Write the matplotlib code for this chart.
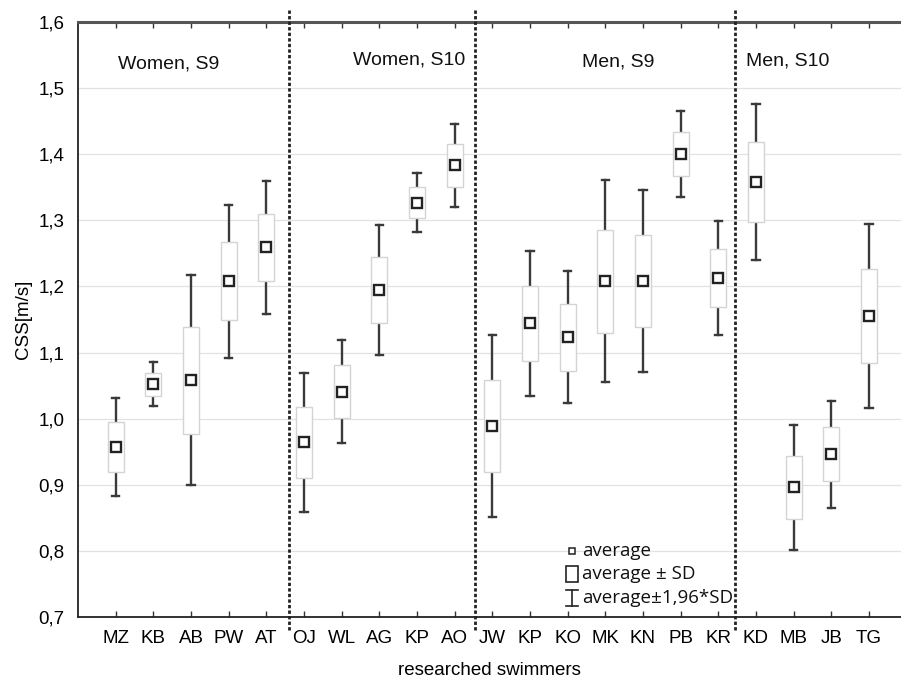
import numpy as np
import matplotlib.pyplot as plt
from matplotlib.patches import Rectangle

plt.rcParams['font.family'] = ['Liberation Sans', 'DejaVu Sans']

swimmers = ['MZ', 'KB', 'AB', 'PW', 'AT',
            'OJ', 'WL', 'AG', 'KP', 'AO',
            'JW', 'KP', 'KO', 'MK', 'KN', 'PB', 'KR',
            'KD', 'MB', 'JB', 'TG']
means = [0.957, 1.052, 1.058, 1.208, 1.259,
         0.964, 1.041, 1.195, 1.327, 1.383,
         0.989, 1.144, 1.123, 1.208, 1.208, 1.400, 1.213,
         1.358, 0.896, 0.946, 1.155]
sds = [0.038, 0.017, 0.081, 0.059, 0.051,
       0.054, 0.040, 0.050, 0.023, 0.032,
       0.070, 0.056, 0.051, 0.078, 0.070, 0.033, 0.044,
       0.060, 0.048, 0.041, 0.071]
groups = ['Women, S9', 'Women, S10', 'Men, S9', 'Men, S10']
group_label_x = [2.4, 8.8, 14.35, 18.85]
group_label_y = [1.537, 1.543, 1.54, 1.541]
separators = [5.6, 10.55, 17.45]
legend_labels = ['average', 'average \u00b1 SD', 'average\u00b11,96*SD']

means = np.array(means)
sds = np.array(sds)
x = np.arange(1, len(swimmers) + 1)

fig = plt.figure(figsize=(9.01, 6.82), dpi=100)
ax = fig.add_axes([0.0866, 0.0953, 0.9134, 0.8724])

ax.set_xlim(0, 21.85)
ax.set_ylim(0.7, 1.6)
ax.set_yticks(np.arange(0.7, 1.61, 0.1))
ax.set_yticklabels([f'{v:.1f}'.replace('.', ',') for v in np.arange(0.7, 1.61, 0.1)])
ax.yaxis.grid(True, color='#e2e2e2', lw=0.9)
ax.set_axisbelow(True)

wc = '#3a3a3a'
box_w = 0.42
cap_w = 0.2
for xi, m, s in zip(x, means, sds):
    lo, hi = m - 1.96 * s, m + 1.96 * s
    ax.plot([xi, xi], [lo, m - s], color=wc, lw=1.7, zorder=2)
    ax.plot([xi, xi], [m + s, hi], color=wc, lw=1.7, zorder=2)
    ax.plot([xi - cap_w / 2, xi + cap_w / 2], [lo, lo], color=wc, lw=1.7, zorder=2)
    ax.plot([xi - cap_w / 2, xi + cap_w / 2], [hi, hi], color=wc, lw=1.7, zorder=2)
    ax.add_patch(Rectangle((xi - box_w / 2, m - s), box_w, 2 * s, facecolor='white',
                           edgecolor='#d4d4d4', lw=1.0, zorder=3))
ax.plot(x, means, 's', ms=6.5, mfc='white', mec='#222222', mew=1.7, ls='none', zorder=4)

for sx in separators:
    ax.plot([sx, sx], [0.68, 1.618], color='#222222', lw=2.0, ls=(0, (1.2, 0.8)),
            clip_on=False, zorder=5)

for gx, gy, g in zip(group_label_x, group_label_y, groups):
    ax.text(gx, gy, g, ha='center', va='center', fontsize=14, color='#111111')

# legend drawn by hand, in data coordinates
lx, tx = 13.12, 13.38
ly = [0.800, 0.765, 0.729]
ax.plot([lx], [ly[0]], 's', ms=4.5, mfc='white', mec='#222222', mew=1.1, zorder=6)
ax.add_patch(Rectangle((lx - 0.16, ly[1] - 0.012), 0.32, 0.024, facecolor='white',
                       edgecolor='#222222', lw=1.2, zorder=6))
ax.plot([lx, lx], [ly[2] - 0.012, ly[2] + 0.012], color='#222222', lw=1.2, zorder=6)
ax.plot([lx - 0.16, lx + 0.16], [ly[2] + 0.012] * 2, color='#222222', lw=1.2, zorder=6)
ax.plot([lx - 0.16, lx + 0.16], [ly[2] - 0.012] * 2, color='#222222', lw=1.2, zorder=6)
for yy, lab in zip(ly, legend_labels):
    ax.text(tx, yy, lab, ha='left', va='center', fontsize=13.5,
            family=['Open Sans', 'DejaVu Sans'], color='#111111', zorder=6)

ax.set_xticks(x)
ax.set_xticklabels(swimmers, fontsize=13.5)
ax.tick_params(axis='x', direction='in', length=4, width=1, top=True, color='#333333', pad=9)
ax.tick_params(axis='y', length=0, labelsize=13.5, pad=10)
ax.spines['right'].set_visible(False)
ax.spines['top'].set_linewidth(2.2)
ax.spines['top'].set_color('#555555')
ax.spines['left'].set_linewidth(1.3)
ax.spines['bottom'].set_linewidth(1.3)
ax.spines['left'].set_color('#222222')
ax.spines['bottom'].set_color('#222222')

ax.set_xlabel('researched swimmers', fontsize=13.5, labelpad=11)
ax.set_ylabel('CSS[m/s]', fontsize=13.5, labelpad=4)

fig.savefig('out.png', dpi=100)
